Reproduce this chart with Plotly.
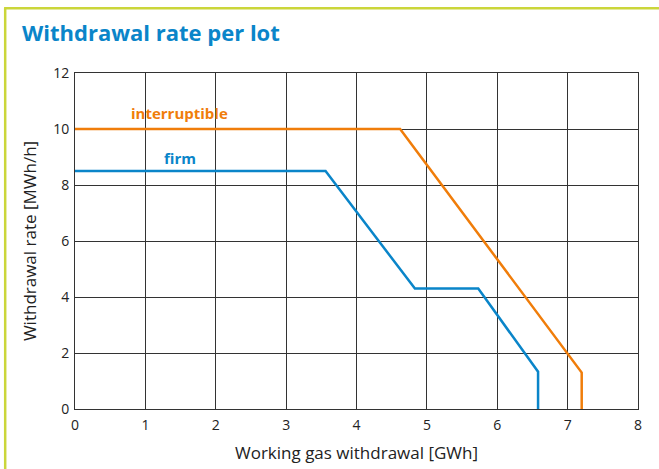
import plotly.graph_objects as go

firm_x = [0, 3.56, 4.83, 5.73, 6.58, 6.58]
firm_y = [8.5, 8.5, 4.3, 4.3, 1.33, 0]
int_x = [0, 4.62, 7.2, 7.2]
int_y = [10, 10, 1.3, 0]
x_ticks = [0, 1, 2, 3, 4, 5, 6, 7, 8]
y_ticks = [0, 2, 4, 6, 8, 10, 12]

BLUE = "#0a85c9"
ORANGE = "#f07d0a"
GREEN = "#cbd63a"
FONT = "Open Sans"

fig = go.Figure()
fig.add_trace(go.Scatter(x=int_x, y=int_y, mode="lines", line=dict(color=ORANGE, width=2.5),
                         showlegend=False, hoverinfo="skip"))
fig.add_trace(go.Scatter(x=firm_x, y=firm_y, mode="lines", line=dict(color=BLUE, width=2.5),
                         showlegend=False, hoverinfo="skip"))

fig.add_annotation(x=1.49, y=10.58, text="<b>interruptible</b>", showarrow=False,
                   font=dict(family=FONT, size=15, color=ORANGE))
fig.add_annotation(x=1.49, y=8.97, text="<b>firm</b>", showarrow=False,
                   font=dict(family=FONT, size=15, color=BLUE))

# decorative border (left and top)
fig.add_shape(type="line", xref="paper", yref="paper", x0=-0.124, x1=-0.124, y0=-0.2, y1=1.193,
              line=dict(color=GREEN, width=2.5))
fig.add_shape(type="line", xref="paper", yref="paper", x0=-0.126, x1=1.1, y0=1.193, y1=1.193,
              line=dict(color=GREEN, width=2.5))

fig.update_layout(
    width=659, height=469,
    margin=dict(l=75, r=21, t=73, b=60),
    paper_bgcolor="white", plot_bgcolor="white",
    title=dict(text="<b>Withdrawal rate per lot</b>", x=22/659, xanchor="left",
               y=1-33/469, yanchor="middle",
               font=dict(family=FONT, size=22, color=BLUE)),
    font=dict(family=FONT, color="#222"),
)
fig.update_xaxes(range=[0, 8], tickvals=x_ticks, showgrid=True, gridcolor="#333", gridwidth=1,
                 showline=True, linecolor="#333", linewidth=1, mirror=True, zeroline=False,
                 automargin=False,
                 ticks="", ticklen=0, ticklabelstandoff=3, tickfont=dict(size=14, color="#222"),
                 title=dict(text="Working gas withdrawal [GWh]", font=dict(size=17, color="#222"), standoff=14))
fig.update_yaxes(range=[0, 12], tickvals=y_ticks, showgrid=True, gridcolor="#333", gridwidth=1,
                 showline=True, linecolor="#333", linewidth=1, mirror=True, zeroline=False,
                 automargin=False,
                 ticks="", ticklabelstandoff=2, tickfont=dict(size=14, color="#222"),
                 title=dict(text="Withdrawal rate [MWh/h]", font=dict(size=17, color="#222"), standoff=12))

fig.write_html("out.html", config={"displayModeBar": False},
               post_script="document.body.style.margin='0';document.body.style.overflow='hidden';")
